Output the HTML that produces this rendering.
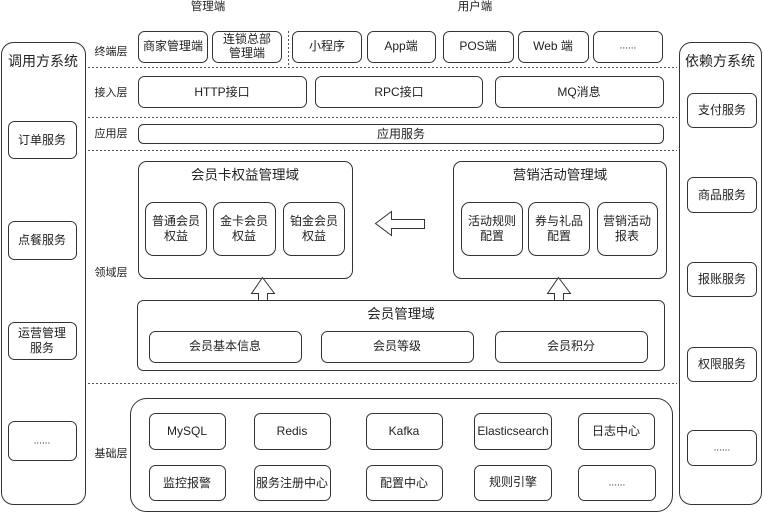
<!DOCTYPE html>
<html><head><meta charset="utf-8">
<style>
html,body{margin:0;padding:0;background:#fff;}
svg{display:block;}
text{font-family:"Liberation Sans","Noto Sans CJK SC",sans-serif;fill:#222;}
</style></head>
<body>
<svg width="763" height="513" viewBox="0 0 763 513" xmlns="http://www.w3.org/2000/svg">
<g fill="#fff" stroke="#333" stroke-width="1">
<!-- side containers -->
<rect x="1.5" y="42.5" width="84" height="462" rx="12"/>
<rect x="679.5" y="42.5" width="82" height="462" rx="12"/>
<!-- left boxes -->
<rect x="8.5" y="121.5" width="68" height="37" rx="6"/>
<rect x="8.5" y="221.5" width="68" height="38" rx="6"/>
<rect x="8.5" y="322.5" width="68" height="37" rx="6"/>
<rect x="8.5" y="421.5" width="68" height="39" rx="6"/>
<!-- right boxes -->
<rect x="687.5" y="93.5" width="69" height="34" rx="6"/>
<rect x="687.5" y="177.5" width="69" height="35" rx="6"/>
<rect x="687.5" y="262.5" width="69" height="34" rx="6"/>
<rect x="687.5" y="347.5" width="69" height="34" rx="6"/>
<rect x="687.5" y="430.5" width="69" height="35" rx="6"/>
<!-- terminal -->
<rect x="138.5" y="31.5" width="69" height="31" rx="6"/>
<rect x="212.5" y="31.5" width="69" height="31" rx="6"/>
<rect x="292.5" y="31.5" width="69" height="31" rx="6"/>
<rect x="367.5" y="31.5" width="68" height="31" rx="6"/>
<rect x="443.5" y="31.5" width="70" height="31" rx="6"/>
<rect x="518.5" y="31.5" width="70" height="31" rx="6"/>
<rect x="593.5" y="31.5" width="69" height="31" rx="6"/>
<!-- access -->
<rect x="138.5" y="76.5" width="168" height="31" rx="6"/>
<rect x="315.5" y="76.5" width="167" height="31" rx="6"/>
<rect x="495.5" y="76.5" width="168" height="31" rx="6"/>
<!-- app -->
<rect x="138.5" y="124.5" width="525" height="19" rx="5"/>
<!-- domain -->
<rect x="138.5" y="161.5" width="214" height="117" rx="8"/>
<rect x="145.5" y="202.5" width="61" height="53" rx="8"/>
<rect x="213.5" y="202.5" width="62" height="53" rx="8"/>
<rect x="283.5" y="202.5" width="61" height="53" rx="8"/>
<rect x="453.5" y="161.5" width="213" height="117" rx="8"/>
<rect x="461.5" y="202.5" width="61" height="53" rx="8"/>
<rect x="528.5" y="202.5" width="61" height="53" rx="8"/>
<rect x="597.5" y="202.5" width="60" height="53" rx="8"/>
<rect x="137.5" y="300.5" width="527" height="70" rx="6"/>
<rect x="149.5" y="331.5" width="152" height="31" rx="6"/>
<rect x="321.5" y="331.5" width="152" height="31" rx="6"/>
<rect x="495.5" y="331.5" width="152" height="31" rx="6"/>
<!-- arrows -->
<path d="M375.5 223.5 L391.5 211.5 L391.5 219.5 L424.5 219.5 L424.5 228.5 L391.5 228.5 L391.5 235.5 Z"/>
<path d="M262.5 277.5 L274.5 293.5 L267.5 293.5 L267.5 300.5 L258.5 300.5 L258.5 293.5 L251.5 293.5 Z"/>
<path d="M558.5 277.5 L570.5 293.5 L563.5 293.5 L563.5 300.5 L554.5 300.5 L554.5 293.5 L547.5 293.5 Z"/>
<!-- base -->
<rect x="130.5" y="398.5" width="542" height="113" rx="16"/>
<rect x="149.5" y="413.5" width="76" height="36" rx="6"/>
<rect x="254.5" y="413.5" width="76" height="36" rx="6"/>
<rect x="366.5" y="413.5" width="76" height="36" rx="6"/>
<rect x="474.5" y="413.5" width="77" height="36" rx="6"/>
<rect x="578.5" y="413.5" width="76" height="36" rx="6"/>
<rect x="149.5" y="465.5" width="76" height="35" rx="6"/>
<rect x="254.5" y="465.5" width="76" height="35" rx="6"/>
<rect x="366.5" y="465.5" width="76" height="35" rx="6"/>
<rect x="474.5" y="465.5" width="77" height="35" rx="6"/>
<rect x="578.5" y="465.5" width="77" height="35" rx="6"/>
</g>
<!-- dotted lines -->
<g stroke="#555" stroke-width="1" stroke-dasharray="2,2" fill="none">
<line x1="88" y1="67.5" x2="677" y2="67.5"/>
<line x1="88" y1="117.5" x2="677" y2="117.5"/>
<line x1="88" y1="150.5" x2="677" y2="150.5"/>
<line x1="88" y1="383.5" x2="677" y2="383.5"/>
<line x1="288.5" y1="31" x2="288.5" y2="67"/>
</g>
<!-- texts -->
<g text-anchor="middle" dominant-baseline="central" font-size="12">
<text x="208" y="7" font-size="11.5">管理端</text>
<text x="475" y="7" font-size="11.5">用户端</text>
<text x="43" y="61" font-size="14">调用方系统</text>
<text x="720" y="61" font-size="14">依赖方系统</text>
<text x="42" y="140">订单服务</text>
<text x="42" y="240">点餐服务</text>
<text x="42" y="333">运营管理</text>
<text x="42" y="348">服务</text>
<text x="42" y="441" font-size="10">......</text>
<text x="722" y="110">支付服务</text>
<text x="722" y="195">商品服务</text>
<text x="722" y="279">报账服务</text>
<text x="722" y="364">权限服务</text>
<text x="722" y="448" font-size="10">......</text>
<text x="111" y="52" font-size="11">终端层</text>
<text x="111" y="93" font-size="11">接入层</text>
<text x="111" y="134" font-size="11">应用层</text>
<text x="111" y="273" font-size="11">领域层</text>
<text x="111" y="454" font-size="11">基础层</text>
<text x="173" y="46">商家管理端</text>
<text x="247" y="39">连锁总部</text>
<text x="247" y="53">管理端</text>
<text x="327" y="46">小程序</text>
<text x="401" y="46">App端</text>
<text x="478" y="46">POS端</text>
<text x="553" y="46">Web 端</text>
<text x="628" y="46" font-size="10">......</text>
<text x="222" y="92">HTTP接口</text>
<text x="399" y="92">RPC接口</text>
<text x="579" y="92">MQ消息</text>
<text x="401" y="134">应用服务</text>
<text x="245" y="175" font-size="13.5">会员卡权益管理域</text>
<text x="560" y="175" font-size="13.5">营销活动管理域</text>
<text x="176" y="221">普通会员</text>
<text x="176" y="236">权益</text>
<text x="244" y="221">金卡会员</text>
<text x="244" y="236">权益</text>
<text x="314" y="221">铂金会员</text>
<text x="314" y="236">权益</text>
<text x="492" y="221">活动规则</text>
<text x="492" y="236">配置</text>
<text x="559" y="221">券与礼品</text>
<text x="559" y="236">配置</text>
<text x="627" y="221">营销活动</text>
<text x="627" y="236">报表</text>
<text x="401" y="314" font-size="13.5">会员管理域</text>
<text x="225" y="346">会员基本信息</text>
<text x="397" y="346">会员等级</text>
<text x="571" y="346">会员积分</text>
<text x="187" y="431">MySQL</text>
<text x="292" y="431">Redis</text>
<text x="404" y="431">Kafka</text>
<text x="513" y="431">Elasticsearch</text>
<text x="616" y="431">日志中心</text>
<text x="187" y="483">监控报警</text>
<text x="292" y="483">服务注册中心</text>
<text x="404" y="483">配置中心</text>
<text x="513" y="482">规则引擎</text>
<text x="617" y="483" font-size="10">......</text>
</g>
</svg>
</body></html>
